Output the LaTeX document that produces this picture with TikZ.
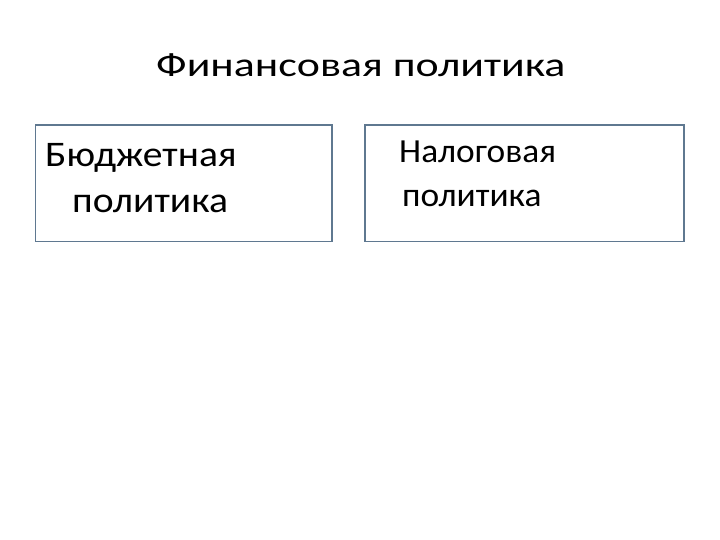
\documentclass[tikz,border=0pt]{standalone}
\usepackage{fontspec}
\setmainfont{Carlito}
\newfontfamily\titlefont[FakeStretch=1.29]{Carlito}
\newfontfamily\bonefont[FakeStretch=1.10]{Carlito}
\newfontfamily\btwofont[FakeStretch=1.05]{Carlito}
\definecolor{boxblue}{HTML}{5F7890}
\tikzset{
  panel/.style={draw=boxblue, line width=1.6pt},
  lbl/.style={anchor=base west, inner sep=0pt, text=black},
}
\begin{document}
\begin{tikzpicture}[x=1pt,y=-1pt]
\useasboundingbox[fill=white] (0,0) rectangle (720,540);
\node[lbl, font=\titlefont\fontsize{34}{36}\selectfont] (title) at (156,77) {Финансовая политика};
\draw[panel] (35.5,125) rectangle (332,241.5);
\node (b1) at (183.75,183.25) {};
\draw[panel] (365,125) rectangle (684,241.5);
\node (b2) at (524.5,183.25) {};
\node[lbl, font=\bonefont\fontsize{36}{40}\selectfont] (b1a) at (45,167) {Бюджетная};
\node[lbl, font=\bonefont\fontsize{36}{40}\selectfont] (b1b) at (72,213) {политика};
\node[lbl, font=\btwofont\fontsize{33.7}{36}\selectfont] (b2a) at (399,163) {Налоговая};
\node[lbl, font=\btwofont\fontsize{33.7}{36}\selectfont] (b2b) at (402,207) {политика};
\end{tikzpicture}
\end{document}
